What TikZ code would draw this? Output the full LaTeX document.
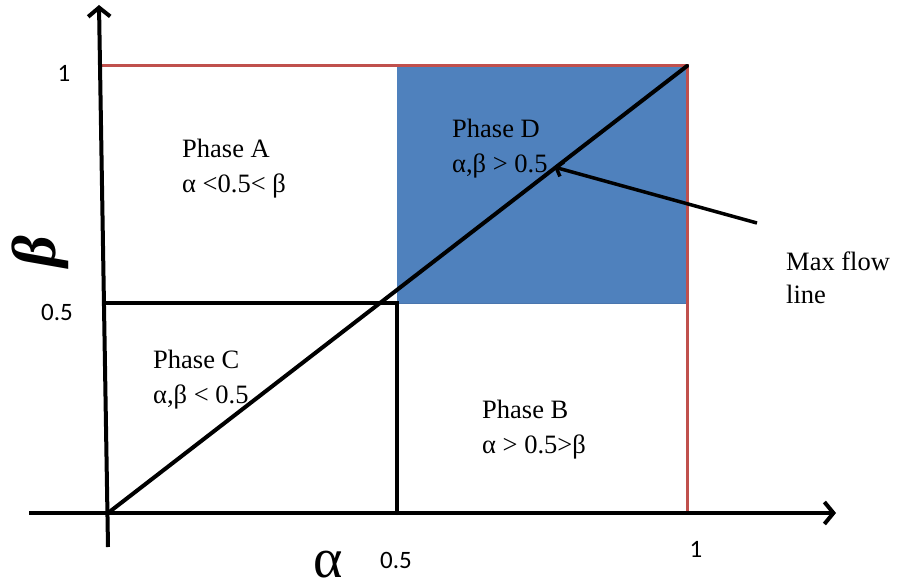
\documentclass[tikz,border=0pt]{standalone}
\usepackage{fontspec}
\setmainfont{Liberation Serif}
\newfontfamily\numfont{Carlito}
\usetikzlibrary{arrows.meta}
\definecolor{phaseblue}{HTML}{4F81BD}
\definecolor{phaseblueedge}{HTML}{4A76AE}
\definecolor{linered}{HTML}{C0504D}
\tikzset{
  axisline/.style={line width=4pt, -{Straight Barb[length=9pt,width=22pt,line width=4pt]}},
  blackline/.style={line width=4pt, line cap=round},
  redline/.style={line width=3pt, linered},
  phasetext/.style={font=\fontsize{26.5}{35}\selectfont, align=left, anchor=base west, inner sep=0pt},
  ticktext/.style={font=\numfont\fontsize{25}{28}\selectfont, inner sep=0pt},
  pointer/.style={line width=3.5pt, -{Straight Barb[length=6pt,width=15pt,line width=3.5pt]}},
  alphatext/.style={font=\fontsize{56}{60}\selectfont, inner sep=0pt, anchor=base, text depth=0pt},
  betatext/.style={font=\fontsize{62}{70}\selectfont\bfseries\itshape, inner sep=0pt, rotate=90}
}
\begin{document}
\begin{tikzpicture}[x=1pt,y=-1pt]
\useasboundingbox (0,0) rectangle (897,586);
% key points
\coordinate (O) at (108,513);
\coordinate (Xh) at (397,513);
\coordinate (X1) at (687,513);
\coordinate (Yh) at (106,303);
\coordinate (Y1) at (102,66);
\coordinate (C) at (397,303);
\coordinate (TR) at (687,66);
\coordinate (xs) at (29,513);
\coordinate (xe) at (836,513);
\coordinate (ys) at (108,547);
\coordinate (ye) at (99,5);
% Phase D region
\fill[phaseblue] (C) rectangle (TR);
\draw[phaseblueedge, line width=1pt] (C) -- (C -| TR);
% red boundary
\draw[redline] (Y1) -- (TR) -- (X1);
% phase boundaries
\draw[blackline] (Yh) -- (C) -- (Xh);
% max flow line
\draw[blackline] (O) -- (TR);
% axes
\draw[axisline] (xs) -- (xe);
\draw[axisline] (ys) -- (ye);
% labels (anchor on the baseline of the last line)
\node[phasetext] (pa) at (182,192) {Phase A\\α <0.5< β};
\node[phasetext] (pd) at (452,172) {Phase D\\α,β > 0.5};
\node[phasetext] (pc) at (153,403) {Phase C\\α,β < 0.5};
\node[phasetext] (pb) at (482,453) {Phase B\\α > 0.5>β};
\node[phasetext, font=\fontsize{26.5}{33}\selectfont] (mf) at (786,303) {Max flow\\line};
\coordinate (mfs) at (757,223);
\coordinate (mft) at (554,167);
\draw[pointer] (mfs) -- (mft);
% ticks
\node[ticktext] (t1y) at (64,73) {1};
\node[ticktext] (thy) at (57,312) {0.5};
\node[ticktext] (thx) at (396,560) {0.5};
\node[ticktext] (t1x) at (696,549) {1};
% axis names
\node[alphatext] (alab) at (328,577) {α};
\node[betatext] (blab) at (40,252) {β};
\end{tikzpicture}
\end{document}
